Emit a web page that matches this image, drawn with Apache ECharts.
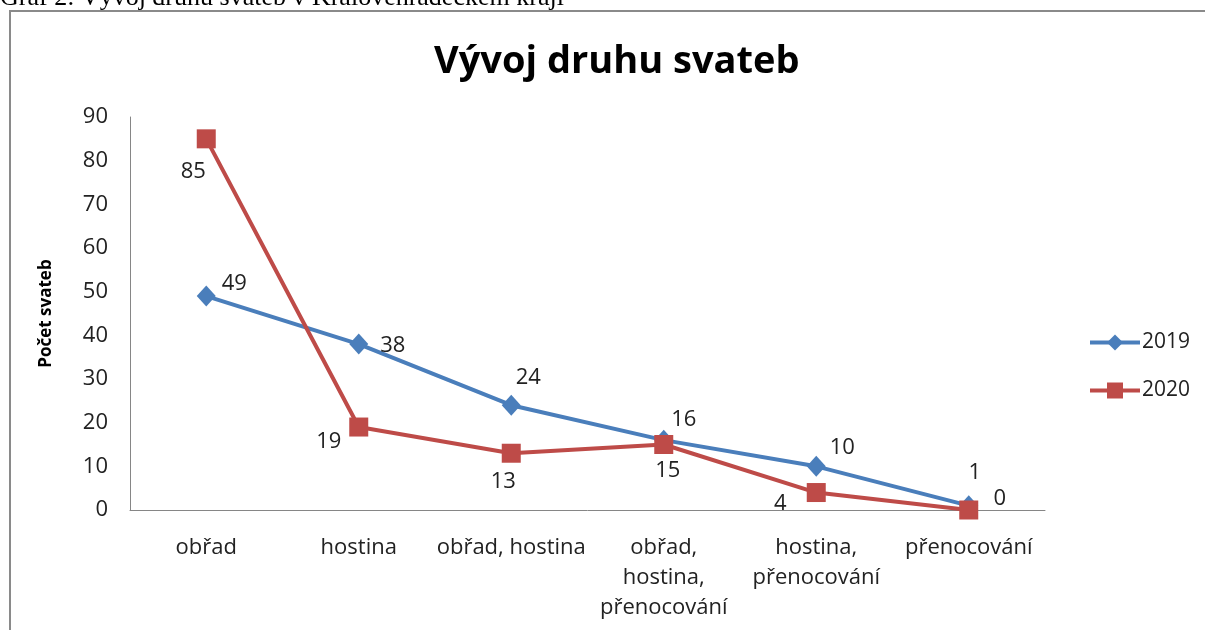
<!DOCTYPE html>
<html>
<head>
<meta charset="utf-8">
<script src="https://cdn.jsdelivr.net/npm/echarts@6/dist/echarts.min.js"></script>
<style>
html,body{margin:0;padding:0;background:#fff;}
#c{width:1205px;height:630px;}
</style>
</head>
<body>
<div id="c"></div>
<script>
const categories = ['obřad', 'hostina', 'obřad, hostina', 'obřad,\nhostina,\npřenocování', 'hostina,\npřenocování', 'přenocování'];
const values2019 = [49, 38, 24, 16, 10, 1];
const values2020 = [85, 19, 13, 15, 4, 0];
const yTicks = [0, 10, 20, 30, 40, 50, 60, 70, 80, 90];

// label placement (layout only)
const off2019 = [[28,-12],[34,2],[17,-27],[20,-20],[26,-19],[6,-33]];
const off2020 = [[-13,33],[-30,15],[-8,29],[4,26],[-36,11],[31,-11]];

const font = '"Open Sans", "Noto Sans", sans-serif';
const textColor = '#222';

function mkData(vals, offs){
  return vals.map((v,i)=>({value:v, label:{offset:offs[i]}}));
}

const chart = echarts.init(document.getElementById('c'), null, {renderer:'canvas'});
chart.setOption({
  animation:false,
  backgroundColor:'#fff',
  title:{
    text:'Vývoj druhu svateb',
    left:429, top:38,
    textStyle:{fontFamily:font, fontWeight:'bold', fontSize:38, color:'#000'}
  },
  graphic:[
    {type:'rect', shape:{x:10,y:11,width:1205,height:640}, style:{fill:'none', stroke:'#8a8a8a', lineWidth:2}, silent:true},
    {type:'text', left:0, top:-15, style:{text:'Graf 2: Vývoj druhu svateb v Královéhradeckém kraji', fontFamily:'"Liberation Serif", serif', fontSize:26, fill:'#000'}}
  ],
  legend:{
    orient:'vertical', left:1083, top:327, itemGap:27,
    itemWidth:50, itemHeight:20,
    lineStyle:{width:4},
    textStyle:{fontFamily:font, fontSize:21, color:textColor, padding:[0,0,0,-3]},
    data:['2019','2020']
  },
  grid:{left:130, right:160, top:117, bottom:120},
  xAxis:{
    type:'category', data:categories, boundaryGap:true,
    axisLine:{lineStyle:{color:'#868686', width:1}},
    axisTick:{show:false},
    axisLabel:{fontFamily:font, fontSize:22, color:textColor, margin:23, lineHeight:30, interval:0}
  },
  yAxis:{
    type:'value', min:0, max:90, interval:10,
    name:'Počet svateb', nameLocation:'middle', nameGap:75, nameRotate:90,
    nameTextStyle:{fontFamily:font, fontWeight:'bold', fontSize:17, color:'#000'},
    axisLine:{show:true, lineStyle:{color:'#868686', width:1}},
    axisTick:{show:false},
    splitLine:{show:false},
    axisLabel:{fontFamily:font, fontSize:22, color:textColor, margin:22,
      formatter:function(v){return yTicks.indexOf(v)>=0?String(v):'';}}
  },
  series:[
    {
      name:'2019', type:'line', data:mkData(values2019, off2019),
      symbol:'diamond', symbolSize:[19,21],
      lineStyle:{color:'#4a7ebb', width:4},
      itemStyle:{color:'#4a7ebb'},
      label:{show:true, position:'inside', fontFamily:font, fontSize:22, color:textColor},
      z:2
    },
    {
      name:'2020', type:'line', data:mkData(values2020, off2020),
      symbol:'rect', symbolSize:19,
      lineStyle:{color:'#be4b48', width:4},
      itemStyle:{color:'#be4b48'},
      label:{show:true, position:'inside', fontFamily:font, fontSize:22, color:textColor},
      z:3
    }
  ]
});
</script>
</body>
</html>
